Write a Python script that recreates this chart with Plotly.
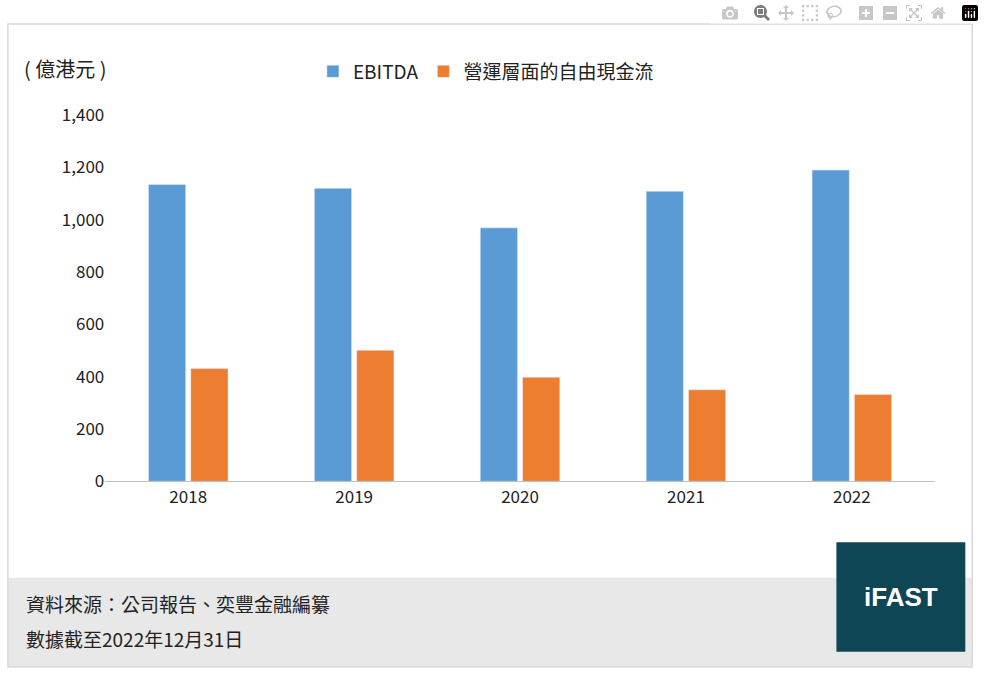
import plotly.graph_objects as go

years = ["2018", "2019", "2020", "2021", "2022"]
ebitda = [1135, 1120, 969, 1109, 1190]
fcf = [431, 501, 398, 350, 332]
y_ticks = [0, 200, 400, 600, 800, 1000, 1200, 1400]

FONT = "Noto Sans CJK TC, Open Sans, sans-serif"

fig = go.Figure()
fig.add_trace(go.Bar(x=years, y=ebitda, name="EBITDA", marker_color="#5B9BD5"))
fig.add_trace(go.Bar(x=years, y=fcf, name="營運層面的自由現金流", marker_color="#ED7D31"))

fig.update_layout(
    width=984, height=686,
    margin=dict(l=0, r=0, t=0, b=0),
    paper_bgcolor="white", plot_bgcolor="white",
    font=dict(family=FONT, size=17, color="#222"),
    barmode="group", bargap=0.49, bargroupgap=0.12,
    showlegend=True,
    legend=dict(orientation="h", x=0.318, y=0.913, xanchor="left", yanchor="middle",
                font=dict(size=19), itemwidth=30, bgcolor="rgba(0,0,0,0)"),
    xaxis=dict(domain=[0.107, 0.95], showline=True, linecolor="#BFBFBF",
               ticks="", tickfont=dict(size=17)),
    yaxis=dict(domain=[0.293, 0.847], range=[0, 1400], tickvals=y_ticks,
               tickformat=",", showgrid=False, zeroline=False, tickfont=dict(size=17)),
    shapes=[
        dict(type="rect", xref="paper", yref="paper", x0=0.008, x1=0.988, y0=0.012, y1=0.985,
             line=dict(color="#D9D9D9", width=1.5), fillcolor="rgba(0,0,0,0)"),
        dict(type="rect", xref="paper", yref="paper", x0=0.008, x1=0.988, y0=0.012, y1=0.147,
             line=dict(width=0), fillcolor="#E8E8E8", layer="below"),
        dict(type="rect", xref="paper", yref="paper", x0=0.85, x1=0.981, y0=0.035, y1=0.201,
             line=dict(width=0), fillcolor="#0F4656"),
    ],
    annotations=[
        dict(text="( 億港元 )", xref="paper", yref="paper", x=0.022, y=0.917,
             xanchor="left", yanchor="middle", showarrow=False, font=dict(size=20)),
        dict(text="資料來源：公司報告、奕豐金融編纂", xref="paper", yref="paper", x=0.024, y=0.108,
             xanchor="left", yanchor="middle", showarrow=False, font=dict(size=19)),
        dict(text="數據截至2022年12月31日", xref="paper", yref="paper", x=0.024, y=0.055,
             xanchor="left", yanchor="middle", showarrow=False, font=dict(size=19)),
        dict(text="<b>iFAST</b>", xref="paper", yref="paper", x=0.9155, y=0.118,
             xanchor="center", yanchor="middle", showarrow=False,
             font=dict(size=26, color="white", family="Arial, Liberation Sans, sans-serif")),
    ],
)

fig.write_html("out.html",
               post_script="document.body.style.margin='0';document.body.style.overflow='hidden';")
